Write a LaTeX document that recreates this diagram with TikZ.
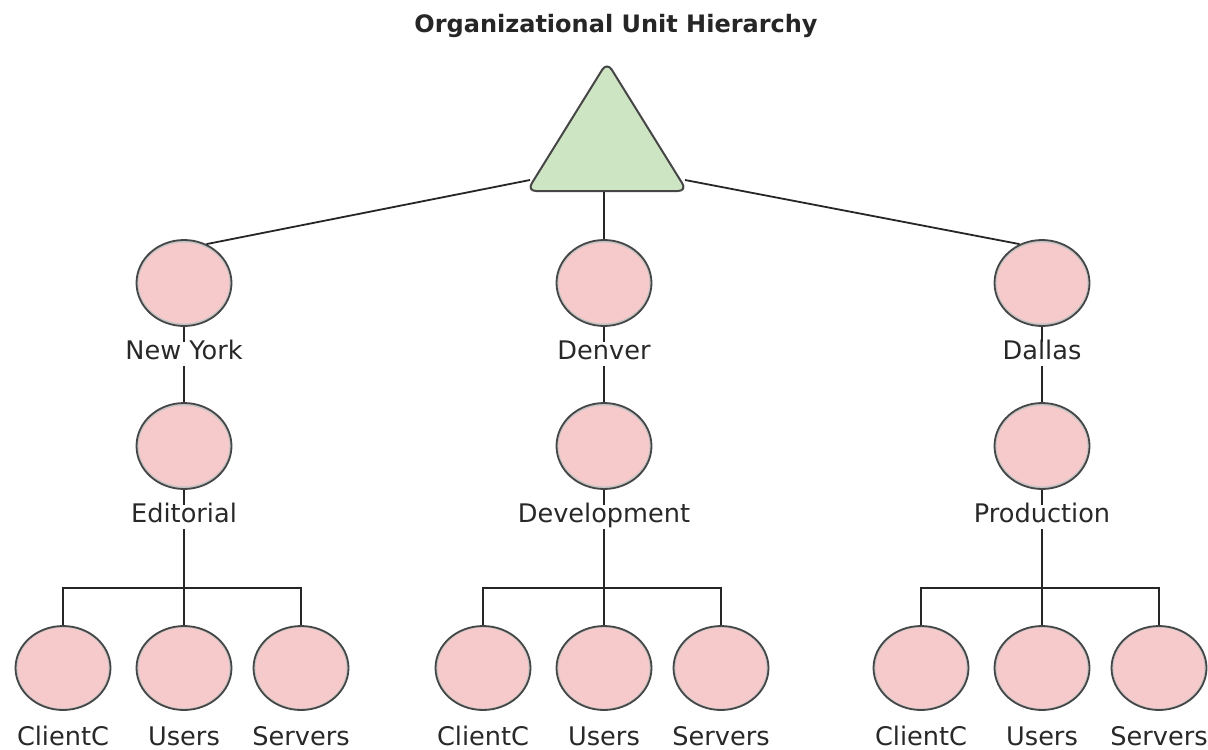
\documentclass[tikz,border=0pt]{standalone}
\usepackage{fontspec}
\setmainfont{DejaVu Sans}
\usetikzlibrary{shapes.geometric}

\definecolor{oupink}{RGB}{246,202,202}
\definecolor{ougreen}{RGB}{206,229,196}
\definecolor{ouedge}{RGB}{70,70,70}
\definecolor{ouring}{RGB}{196,196,196}
\definecolor{outext}{RGB}{40,40,40}

\begin{document}
\begin{tikzpicture}[x=0.5pt,y=-0.5pt,
	ou/.style={ellipse,draw=ouedge,line width=0.9pt,fill=oupink,minimum width=47.5pt,minimum height=43pt,inner sep=0pt,
		path picture={\draw[ouring,line width=2pt] (path picture bounding box.center) ellipse [x radius=23.75pt,y radius=21.25pt];}},
	lbl/.style={text=outext,font=\fontsize{12.8pt}{15pt}\selectfont,text height=0.76em,text depth=0.24em,inner sep=1pt},
	link/.style={line width=0.9pt,draw=black!85}]
	\useasboundingbox (0,0) rectangle (1208,749);
	
	%TOP
	\node[font=\bfseries\fontsize{12pt}{14pt}\selectfont,text=black!85,anchor=base] (title) at (616,33) {Organizational Unit Hierarchy};
	\draw[draw=ouedge,line width=1pt,fill=ougreen,rounded corners=4.5pt] (527,191)--(607,62)--(687,191)--cycle;	%domain
	\coordinate (rootL) at (530,180);
	\coordinate (rootB) at (604,192);
	\coordinate (rootR) at (685,180);
	
	%SITES, DEPARTMENTS, CONTAINERS
	\foreach \i/\x/\site/\dept in {1/184/New York/Editorial,2/604/Denver/Development,3/1042/Dallas/Production}{
		\node[ou] (site\i) at (\x,283) {};
		\node[lbl] (sitelbl\i) at (\x,354) {\site};
		\node[ou] (dept\i) at (\x,446) {};
		\node[lbl] (deptlbl\i) at (\x,517) {\dept};
		\coordinate (bar\i) at (\x,588);
		%
		\node[ou,minimum height=42pt] (cli\i) at (\x-121,668) {};
		\node[ou,minimum height=42pt] (usr\i) at (\x,668) {};
		\node[ou,minimum height=42pt] (srv\i) at (\x+117,668) {};
		\node[lbl] at (\x-121,740) {ClientC};
		\node[lbl] at (\x,740) {Users};
		\node[lbl] at (\x+117,740) {Servers};
		%
		\draw[link] (site\i)--(sitelbl\i);
		\draw[link] (sitelbl\i)--(dept\i);
		\draw[link] (dept\i)--(deptlbl\i);
		\draw[link] (deptlbl\i)--(bar\i)--(usr\i);
		\draw[link] (cli\i.north) |- (bar\i) -| (srv\i.north);
	}
	
	%links to the domain
	\draw[link] (rootL)--(site1.60);
	\draw[link] (rootB)--(site2);
	\draw[link] (rootR)--(site3.120);
	
\end{tikzpicture}
\end{document}
